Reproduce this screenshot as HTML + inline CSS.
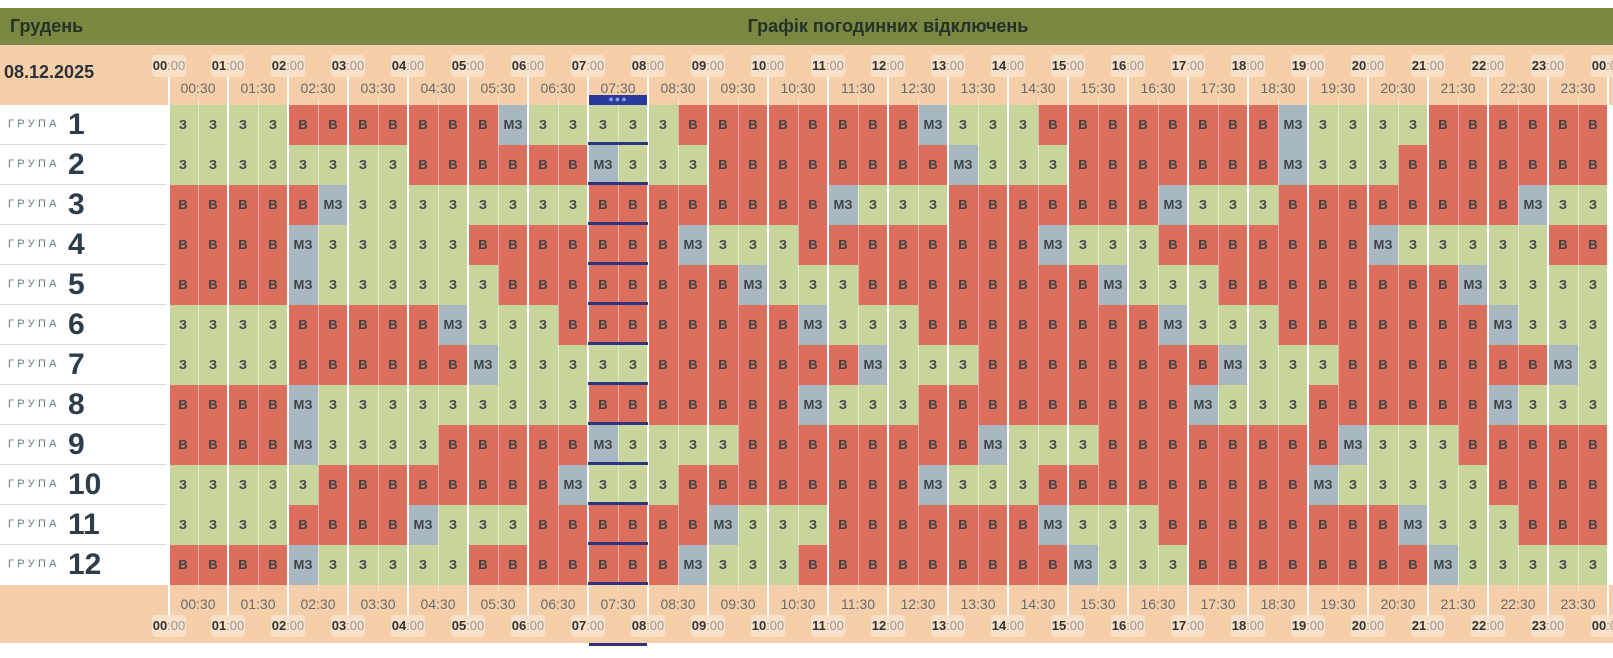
<!DOCTYPE html>
<html><head><meta charset="utf-8"><style>
*{margin:0;padding:0;box-sizing:border-box}
body{width:1613px;height:658px;background:#fff;position:relative;overflow:hidden;font-family:"Liberation Sans",sans-serif}
.abs{position:absolute}
#top{left:0;top:8px;width:1613px;height:37px;background:#778840}
#top .mo{left:10px;top:0;line-height:37px;font-size:18px;font-weight:bold;color:#273128}
#top .t{left:168px;width:1440px;text-align:center;top:0;line-height:37px;font-size:18px;font-weight:bold;color:#273128}
.peach{background:#f5cfaa}
.pill{position:absolute;width:34px;height:22px;margin-left:-17px;background:#f8e0c9;border-radius:4px;text-align:center;line-height:22px;font-size:13px;color:#9a9a9a}
.pill b{color:#333}
.half{position:absolute;width:60px;margin-left:-30px;text-align:center;font-size:14px;color:#6a6a6a}
.row{position:absolute;left:168px;height:40px;display:flex}
.row i{font-style:normal;width:30px;height:40px;line-height:40px;text-align:center;font-size:13px;font-weight:bold;color:#3f4545}
.z{background:#c8d59c}.b{background:#dc6e5e}.m{background:#a9b8c0}
.lab{position:absolute;left:0;width:166px;height:40px;border-bottom:1px solid #d8d8d8;background:#fff}
.lab span{position:absolute;left:8px;top:13px;font-size:11px;letter-spacing:3.3px;color:#6c7780}
.lab b{position:absolute;left:68px;top:3px;font-size:30px;color:#2f3d4a}
.hl{position:absolute;top:77px;height:538px;width:2px;margin-left:-1px;background:#fff}
.hh{position:absolute;top:98px;height:494px;width:1px;background:rgba(255,255,255,.45)}
.nv{position:absolute;left:588px;width:60px;height:3px;background:#2e3580}
</style></head><body>
<div id="top" class="abs"><div class="abs mo">Грудень</div><div class="abs t">Графік погодинних відключень</div></div>
<div class="abs peach" style="left:0;top:45px;width:1613px;height:60px"></div>
<div class="abs" style="left:4px;top:62px;font-size:18px;font-weight:bold;color:#2b3137">08.12.2025</div>
<div class="abs peach" style="left:0;top:585px;width:1613px;height:58px"></div>
<div class="abs" style="left:166px;top:105px;width:2px;height:480px;background:#fff"></div>

<div class="lab" style="top:105px"><span>ГРУПА</span><b>1</b></div>
<div class="lab" style="top:145px"><span>ГРУПА</span><b>2</b></div>
<div class="lab" style="top:185px"><span>ГРУПА</span><b>3</b></div>
<div class="lab" style="top:225px"><span>ГРУПА</span><b>4</b></div>
<div class="lab" style="top:265px"><span>ГРУПА</span><b>5</b></div>
<div class="lab" style="top:305px"><span>ГРУПА</span><b>6</b></div>
<div class="lab" style="top:345px"><span>ГРУПА</span><b>7</b></div>
<div class="lab" style="top:385px"><span>ГРУПА</span><b>8</b></div>
<div class="lab" style="top:425px"><span>ГРУПА</span><b>9</b></div>
<div class="lab" style="top:465px"><span>ГРУПА</span><b>10</b></div>
<div class="lab" style="top:505px"><span>ГРУПА</span><b>11</b></div>
<div class="lab" style="top:545px;border-bottom:none"><span>ГРУПА</span><b>12</b></div>

<div class="row" style="top:105px"><i class=z>З</i><i class=z>З</i><i class=z>З</i><i class=z>З</i><i class=b>В</i><i class=b>В</i><i class=b>В</i><i class=b>В</i><i class=b>В</i><i class=b>В</i><i class=b>В</i><i class=m>МЗ</i><i class=z>З</i><i class=z>З</i><i class=z>З</i><i class=z>З</i><i class=z>З</i><i class=b>В</i><i class=b>В</i><i class=b>В</i><i class=b>В</i><i class=b>В</i><i class=b>В</i><i class=b>В</i><i class=b>В</i><i class=m>МЗ</i><i class=z>З</i><i class=z>З</i><i class=z>З</i><i class=b>В</i><i class=b>В</i><i class=b>В</i><i class=b>В</i><i class=b>В</i><i class=b>В</i><i class=b>В</i><i class=b>В</i><i class=m>МЗ</i><i class=z>З</i><i class=z>З</i><i class=z>З</i><i class=z>З</i><i class=b>В</i><i class=b>В</i><i class=b>В</i><i class=b>В</i><i class=b>В</i><i class=b>В</i></div>
<div class="row" style="top:145px"><i class=z>З</i><i class=z>З</i><i class=z>З</i><i class=z>З</i><i class=z>З</i><i class=z>З</i><i class=z>З</i><i class=z>З</i><i class=b>В</i><i class=b>В</i><i class=b>В</i><i class=b>В</i><i class=b>В</i><i class=b>В</i><i class=m>МЗ</i><i class=z>З</i><i class=z>З</i><i class=z>З</i><i class=b>В</i><i class=b>В</i><i class=b>В</i><i class=b>В</i><i class=b>В</i><i class=b>В</i><i class=b>В</i><i class=b>В</i><i class=m>МЗ</i><i class=z>З</i><i class=z>З</i><i class=z>З</i><i class=b>В</i><i class=b>В</i><i class=b>В</i><i class=b>В</i><i class=b>В</i><i class=b>В</i><i class=b>В</i><i class=m>МЗ</i><i class=z>З</i><i class=z>З</i><i class=z>З</i><i class=b>В</i><i class=b>В</i><i class=b>В</i><i class=b>В</i><i class=b>В</i><i class=b>В</i><i class=b>В</i></div>
<div class="row" style="top:185px"><i class=b>В</i><i class=b>В</i><i class=b>В</i><i class=b>В</i><i class=b>В</i><i class=m>МЗ</i><i class=z>З</i><i class=z>З</i><i class=z>З</i><i class=z>З</i><i class=z>З</i><i class=z>З</i><i class=z>З</i><i class=z>З</i><i class=b>В</i><i class=b>В</i><i class=b>В</i><i class=b>В</i><i class=b>В</i><i class=b>В</i><i class=b>В</i><i class=b>В</i><i class=m>МЗ</i><i class=z>З</i><i class=z>З</i><i class=z>З</i><i class=b>В</i><i class=b>В</i><i class=b>В</i><i class=b>В</i><i class=b>В</i><i class=b>В</i><i class=b>В</i><i class=m>МЗ</i><i class=z>З</i><i class=z>З</i><i class=z>З</i><i class=b>В</i><i class=b>В</i><i class=b>В</i><i class=b>В</i><i class=b>В</i><i class=b>В</i><i class=b>В</i><i class=b>В</i><i class=m>МЗ</i><i class=z>З</i><i class=z>З</i></div>
<div class="row" style="top:225px"><i class=b>В</i><i class=b>В</i><i class=b>В</i><i class=b>В</i><i class=m>МЗ</i><i class=z>З</i><i class=z>З</i><i class=z>З</i><i class=z>З</i><i class=z>З</i><i class=b>В</i><i class=b>В</i><i class=b>В</i><i class=b>В</i><i class=b>В</i><i class=b>В</i><i class=b>В</i><i class=m>МЗ</i><i class=z>З</i><i class=z>З</i><i class=z>З</i><i class=b>В</i><i class=b>В</i><i class=b>В</i><i class=b>В</i><i class=b>В</i><i class=b>В</i><i class=b>В</i><i class=b>В</i><i class=m>МЗ</i><i class=z>З</i><i class=z>З</i><i class=z>З</i><i class=b>В</i><i class=b>В</i><i class=b>В</i><i class=b>В</i><i class=b>В</i><i class=b>В</i><i class=b>В</i><i class=m>МЗ</i><i class=z>З</i><i class=z>З</i><i class=z>З</i><i class=z>З</i><i class=z>З</i><i class=b>В</i><i class=b>В</i></div>
<div class="row" style="top:265px"><i class=b>В</i><i class=b>В</i><i class=b>В</i><i class=b>В</i><i class=m>МЗ</i><i class=z>З</i><i class=z>З</i><i class=z>З</i><i class=z>З</i><i class=z>З</i><i class=z>З</i><i class=b>В</i><i class=b>В</i><i class=b>В</i><i class=b>В</i><i class=b>В</i><i class=b>В</i><i class=b>В</i><i class=b>В</i><i class=m>МЗ</i><i class=z>З</i><i class=z>З</i><i class=z>З</i><i class=b>В</i><i class=b>В</i><i class=b>В</i><i class=b>В</i><i class=b>В</i><i class=b>В</i><i class=b>В</i><i class=b>В</i><i class=m>МЗ</i><i class=z>З</i><i class=z>З</i><i class=z>З</i><i class=b>В</i><i class=b>В</i><i class=b>В</i><i class=b>В</i><i class=b>В</i><i class=b>В</i><i class=b>В</i><i class=b>В</i><i class=m>МЗ</i><i class=z>З</i><i class=z>З</i><i class=z>З</i><i class=z>З</i></div>
<div class="row" style="top:305px"><i class=z>З</i><i class=z>З</i><i class=z>З</i><i class=z>З</i><i class=b>В</i><i class=b>В</i><i class=b>В</i><i class=b>В</i><i class=b>В</i><i class=m>МЗ</i><i class=z>З</i><i class=z>З</i><i class=z>З</i><i class=b>В</i><i class=b>В</i><i class=b>В</i><i class=b>В</i><i class=b>В</i><i class=b>В</i><i class=b>В</i><i class=b>В</i><i class=m>МЗ</i><i class=z>З</i><i class=z>З</i><i class=z>З</i><i class=b>В</i><i class=b>В</i><i class=b>В</i><i class=b>В</i><i class=b>В</i><i class=b>В</i><i class=b>В</i><i class=b>В</i><i class=m>МЗ</i><i class=z>З</i><i class=z>З</i><i class=z>З</i><i class=b>В</i><i class=b>В</i><i class=b>В</i><i class=b>В</i><i class=b>В</i><i class=b>В</i><i class=b>В</i><i class=m>МЗ</i><i class=z>З</i><i class=z>З</i><i class=z>З</i></div>
<div class="row" style="top:345px"><i class=z>З</i><i class=z>З</i><i class=z>З</i><i class=z>З</i><i class=b>В</i><i class=b>В</i><i class=b>В</i><i class=b>В</i><i class=b>В</i><i class=b>В</i><i class=m>МЗ</i><i class=z>З</i><i class=z>З</i><i class=z>З</i><i class=z>З</i><i class=z>З</i><i class=b>В</i><i class=b>В</i><i class=b>В</i><i class=b>В</i><i class=b>В</i><i class=b>В</i><i class=b>В</i><i class=m>МЗ</i><i class=z>З</i><i class=z>З</i><i class=z>З</i><i class=b>В</i><i class=b>В</i><i class=b>В</i><i class=b>В</i><i class=b>В</i><i class=b>В</i><i class=b>В</i><i class=b>В</i><i class=m>МЗ</i><i class=z>З</i><i class=z>З</i><i class=z>З</i><i class=b>В</i><i class=b>В</i><i class=b>В</i><i class=b>В</i><i class=b>В</i><i class=b>В</i><i class=b>В</i><i class=m>МЗ</i><i class=z>З</i></div>
<div class="row" style="top:385px"><i class=b>В</i><i class=b>В</i><i class=b>В</i><i class=b>В</i><i class=m>МЗ</i><i class=z>З</i><i class=z>З</i><i class=z>З</i><i class=z>З</i><i class=z>З</i><i class=z>З</i><i class=z>З</i><i class=z>З</i><i class=z>З</i><i class=b>В</i><i class=b>В</i><i class=b>В</i><i class=b>В</i><i class=b>В</i><i class=b>В</i><i class=b>В</i><i class=m>МЗ</i><i class=z>З</i><i class=z>З</i><i class=z>З</i><i class=b>В</i><i class=b>В</i><i class=b>В</i><i class=b>В</i><i class=b>В</i><i class=b>В</i><i class=b>В</i><i class=b>В</i><i class=b>В</i><i class=m>МЗ</i><i class=z>З</i><i class=z>З</i><i class=z>З</i><i class=b>В</i><i class=b>В</i><i class=b>В</i><i class=b>В</i><i class=b>В</i><i class=b>В</i><i class=m>МЗ</i><i class=z>З</i><i class=z>З</i><i class=z>З</i></div>
<div class="row" style="top:425px"><i class=b>В</i><i class=b>В</i><i class=b>В</i><i class=b>В</i><i class=m>МЗ</i><i class=z>З</i><i class=z>З</i><i class=z>З</i><i class=z>З</i><i class=b>В</i><i class=b>В</i><i class=b>В</i><i class=b>В</i><i class=b>В</i><i class=m>МЗ</i><i class=z>З</i><i class=z>З</i><i class=z>З</i><i class=z>З</i><i class=b>В</i><i class=b>В</i><i class=b>В</i><i class=b>В</i><i class=b>В</i><i class=b>В</i><i class=b>В</i><i class=b>В</i><i class=m>МЗ</i><i class=z>З</i><i class=z>З</i><i class=z>З</i><i class=b>В</i><i class=b>В</i><i class=b>В</i><i class=b>В</i><i class=b>В</i><i class=b>В</i><i class=b>В</i><i class=b>В</i><i class=m>МЗ</i><i class=z>З</i><i class=z>З</i><i class=z>З</i><i class=b>В</i><i class=b>В</i><i class=b>В</i><i class=b>В</i><i class=b>В</i></div>
<div class="row" style="top:465px"><i class=z>З</i><i class=z>З</i><i class=z>З</i><i class=z>З</i><i class=z>З</i><i class=b>В</i><i class=b>В</i><i class=b>В</i><i class=b>В</i><i class=b>В</i><i class=b>В</i><i class=b>В</i><i class=b>В</i><i class=m>МЗ</i><i class=z>З</i><i class=z>З</i><i class=z>З</i><i class=b>В</i><i class=b>В</i><i class=b>В</i><i class=b>В</i><i class=b>В</i><i class=b>В</i><i class=b>В</i><i class=b>В</i><i class=m>МЗ</i><i class=z>З</i><i class=z>З</i><i class=z>З</i><i class=b>В</i><i class=b>В</i><i class=b>В</i><i class=b>В</i><i class=b>В</i><i class=b>В</i><i class=b>В</i><i class=b>В</i><i class=b>В</i><i class=m>МЗ</i><i class=z>З</i><i class=z>З</i><i class=z>З</i><i class=z>З</i><i class=z>З</i><i class=b>В</i><i class=b>В</i><i class=b>В</i><i class=b>В</i></div>
<div class="row" style="top:505px"><i class=z>З</i><i class=z>З</i><i class=z>З</i><i class=z>З</i><i class=b>В</i><i class=b>В</i><i class=b>В</i><i class=b>В</i><i class=m>МЗ</i><i class=z>З</i><i class=z>З</i><i class=z>З</i><i class=b>В</i><i class=b>В</i><i class=b>В</i><i class=b>В</i><i class=b>В</i><i class=b>В</i><i class=m>МЗ</i><i class=z>З</i><i class=z>З</i><i class=z>З</i><i class=b>В</i><i class=b>В</i><i class=b>В</i><i class=b>В</i><i class=b>В</i><i class=b>В</i><i class=b>В</i><i class=m>МЗ</i><i class=z>З</i><i class=z>З</i><i class=z>З</i><i class=b>В</i><i class=b>В</i><i class=b>В</i><i class=b>В</i><i class=b>В</i><i class=b>В</i><i class=b>В</i><i class=b>В</i><i class=m>МЗ</i><i class=z>З</i><i class=z>З</i><i class=z>З</i><i class=b>В</i><i class=b>В</i><i class=b>В</i></div>
<div class="row" style="top:545px"><i class=b>В</i><i class=b>В</i><i class=b>В</i><i class=b>В</i><i class=m>МЗ</i><i class=z>З</i><i class=z>З</i><i class=z>З</i><i class=z>З</i><i class=z>З</i><i class=b>В</i><i class=b>В</i><i class=b>В</i><i class=b>В</i><i class=b>В</i><i class=b>В</i><i class=b>В</i><i class=m>МЗ</i><i class=z>З</i><i class=z>З</i><i class=z>З</i><i class=b>В</i><i class=b>В</i><i class=b>В</i><i class=b>В</i><i class=b>В</i><i class=b>В</i><i class=b>В</i><i class=b>В</i><i class=b>В</i><i class=m>МЗ</i><i class=z>З</i><i class=z>З</i><i class=z>З</i><i class=b>В</i><i class=b>В</i><i class=b>В</i><i class=b>В</i><i class=b>В</i><i class=b>В</i><i class=b>В</i><i class=b>В</i><i class=m>МЗ</i><i class=z>З</i><i class=z>З</i><i class=z>З</i><i class=z>З</i><i class=z>З</i></div>

<div class="hh" style="left:198px"></div><div class="hh" style="left:258px"></div><div class="hh" style="left:318px"></div><div class="hh" style="left:378px"></div><div class="hh" style="left:438px"></div><div class="hh" style="left:498px"></div><div class="hh" style="left:558px"></div><div class="hh" style="left:618px"></div><div class="hh" style="left:678px"></div><div class="hh" style="left:738px"></div><div class="hh" style="left:798px"></div><div class="hh" style="left:858px"></div><div class="hh" style="left:918px"></div><div class="hh" style="left:978px"></div><div class="hh" style="left:1038px"></div><div class="hh" style="left:1098px"></div><div class="hh" style="left:1158px"></div><div class="hh" style="left:1218px"></div><div class="hh" style="left:1278px"></div><div class="hh" style="left:1338px"></div><div class="hh" style="left:1398px"></div><div class="hh" style="left:1458px"></div><div class="hh" style="left:1518px"></div><div class="hh" style="left:1578px"></div>
<div class="hl" style="left:169px"></div><div class="hl" style="left:228px"></div><div class="hl" style="left:288px"></div><div class="hl" style="left:348px"></div><div class="hl" style="left:408px"></div><div class="hl" style="left:468px"></div><div class="hl" style="left:528px"></div><div class="hl" style="left:588px"></div><div class="hl" style="left:648px"></div><div class="hl" style="left:708px"></div><div class="hl" style="left:768px"></div><div class="hl" style="left:828px"></div><div class="hl" style="left:888px"></div><div class="hl" style="left:948px"></div><div class="hl" style="left:1008px"></div><div class="hl" style="left:1068px"></div><div class="hl" style="left:1128px"></div><div class="hl" style="left:1188px"></div><div class="hl" style="left:1248px"></div><div class="hl" style="left:1308px"></div><div class="hl" style="left:1368px"></div><div class="hl" style="left:1428px"></div><div class="hl" style="left:1488px"></div><div class="hl" style="left:1548px"></div><div class="hl" style="left:1608px"></div>

<div class="nv" style="top:142px"></div><div class="nv" style="top:182px"></div><div class="nv" style="top:222px"></div><div class="nv" style="top:262px"></div><div class="nv" style="top:302px"></div><div class="nv" style="top:342px"></div><div class="nv" style="top:382px"></div><div class="nv" style="top:422px"></div><div class="nv" style="top:462px"></div><div class="nv" style="top:502px"></div><div class="nv" style="top:542px"></div><div class="nv" style="top:582px"></div>
<div class="abs" style="left:589px;top:95px;width:58px;height:10px;background:#2a3a9c;text-align:center;line-height:9px;font-size:9px;color:#8c9ae0;letter-spacing:1px">●●●</div>
<div class="abs" style="left:589px;top:643px;width:58px;height:3px;background:#2e3580"></div>

<div class="pill" style="left:169px;top:55px"><b>00</b>:00</div><div class="pill" style="left:228px;top:55px"><b>01</b>:00</div><div class="pill" style="left:288px;top:55px"><b>02</b>:00</div><div class="pill" style="left:348px;top:55px"><b>03</b>:00</div><div class="pill" style="left:408px;top:55px"><b>04</b>:00</div><div class="pill" style="left:468px;top:55px"><b>05</b>:00</div><div class="pill" style="left:528px;top:55px"><b>06</b>:00</div><div class="pill" style="left:588px;top:55px"><b>07</b>:00</div><div class="pill" style="left:648px;top:55px"><b>08</b>:00</div><div class="pill" style="left:708px;top:55px"><b>09</b>:00</div><div class="pill" style="left:768px;top:55px"><b>10</b>:00</div><div class="pill" style="left:828px;top:55px"><b>11</b>:00</div><div class="pill" style="left:888px;top:55px"><b>12</b>:00</div><div class="pill" style="left:948px;top:55px"><b>13</b>:00</div><div class="pill" style="left:1008px;top:55px"><b>14</b>:00</div><div class="pill" style="left:1068px;top:55px"><b>15</b>:00</div><div class="pill" style="left:1128px;top:55px"><b>16</b>:00</div><div class="pill" style="left:1188px;top:55px"><b>17</b>:00</div><div class="pill" style="left:1248px;top:55px"><b>18</b>:00</div><div class="pill" style="left:1308px;top:55px"><b>19</b>:00</div><div class="pill" style="left:1368px;top:55px"><b>20</b>:00</div><div class="pill" style="left:1428px;top:55px"><b>21</b>:00</div><div class="pill" style="left:1488px;top:55px"><b>22</b>:00</div><div class="pill" style="left:1548px;top:55px"><b>23</b>:00</div><div class="pill" style="left:1608px;top:55px"><b>00</b>:00</div>
<div class="pill" style="left:169px;top:615px"><b>00</b>:00</div><div class="pill" style="left:228px;top:615px"><b>01</b>:00</div><div class="pill" style="left:288px;top:615px"><b>02</b>:00</div><div class="pill" style="left:348px;top:615px"><b>03</b>:00</div><div class="pill" style="left:408px;top:615px"><b>04</b>:00</div><div class="pill" style="left:468px;top:615px"><b>05</b>:00</div><div class="pill" style="left:528px;top:615px"><b>06</b>:00</div><div class="pill" style="left:588px;top:615px"><b>07</b>:00</div><div class="pill" style="left:648px;top:615px"><b>08</b>:00</div><div class="pill" style="left:708px;top:615px"><b>09</b>:00</div><div class="pill" style="left:768px;top:615px"><b>10</b>:00</div><div class="pill" style="left:828px;top:615px"><b>11</b>:00</div><div class="pill" style="left:888px;top:615px"><b>12</b>:00</div><div class="pill" style="left:948px;top:615px"><b>13</b>:00</div><div class="pill" style="left:1008px;top:615px"><b>14</b>:00</div><div class="pill" style="left:1068px;top:615px"><b>15</b>:00</div><div class="pill" style="left:1128px;top:615px"><b>16</b>:00</div><div class="pill" style="left:1188px;top:615px"><b>17</b>:00</div><div class="pill" style="left:1248px;top:615px"><b>18</b>:00</div><div class="pill" style="left:1308px;top:615px"><b>19</b>:00</div><div class="pill" style="left:1368px;top:615px"><b>20</b>:00</div><div class="pill" style="left:1428px;top:615px"><b>21</b>:00</div><div class="pill" style="left:1488px;top:615px"><b>22</b>:00</div><div class="pill" style="left:1548px;top:615px"><b>23</b>:00</div><div class="pill" style="left:1608px;top:615px"><b>00</b>:00</div>

<div class="half" style="left:198px;top:80px">00:30</div><div class="half" style="left:258px;top:80px">01:30</div><div class="half" style="left:318px;top:80px">02:30</div><div class="half" style="left:378px;top:80px">03:30</div><div class="half" style="left:438px;top:80px">04:30</div><div class="half" style="left:498px;top:80px">05:30</div><div class="half" style="left:558px;top:80px">06:30</div><div class="half" style="left:618px;top:80px">07:30</div><div class="half" style="left:678px;top:80px">08:30</div><div class="half" style="left:738px;top:80px">09:30</div><div class="half" style="left:798px;top:80px">10:30</div><div class="half" style="left:858px;top:80px">11:30</div><div class="half" style="left:918px;top:80px">12:30</div><div class="half" style="left:978px;top:80px">13:30</div><div class="half" style="left:1038px;top:80px">14:30</div><div class="half" style="left:1098px;top:80px">15:30</div><div class="half" style="left:1158px;top:80px">16:30</div><div class="half" style="left:1218px;top:80px">17:30</div><div class="half" style="left:1278px;top:80px">18:30</div><div class="half" style="left:1338px;top:80px">19:30</div><div class="half" style="left:1398px;top:80px">20:30</div><div class="half" style="left:1458px;top:80px">21:30</div><div class="half" style="left:1518px;top:80px">22:30</div><div class="half" style="left:1578px;top:80px">23:30</div>
<div class="half" style="left:198px;top:596px">00:30</div><div class="half" style="left:258px;top:596px">01:30</div><div class="half" style="left:318px;top:596px">02:30</div><div class="half" style="left:378px;top:596px">03:30</div><div class="half" style="left:438px;top:596px">04:30</div><div class="half" style="left:498px;top:596px">05:30</div><div class="half" style="left:558px;top:596px">06:30</div><div class="half" style="left:618px;top:596px">07:30</div><div class="half" style="left:678px;top:596px">08:30</div><div class="half" style="left:738px;top:596px">09:30</div><div class="half" style="left:798px;top:596px">10:30</div><div class="half" style="left:858px;top:596px">11:30</div><div class="half" style="left:918px;top:596px">12:30</div><div class="half" style="left:978px;top:596px">13:30</div><div class="half" style="left:1038px;top:596px">14:30</div><div class="half" style="left:1098px;top:596px">15:30</div><div class="half" style="left:1158px;top:596px">16:30</div><div class="half" style="left:1218px;top:596px">17:30</div><div class="half" style="left:1278px;top:596px">18:30</div><div class="half" style="left:1338px;top:596px">19:30</div><div class="half" style="left:1398px;top:596px">20:30</div><div class="half" style="left:1458px;top:596px">21:30</div><div class="half" style="left:1518px;top:596px">22:30</div><div class="half" style="left:1578px;top:596px">23:30</div>
</body></html>
